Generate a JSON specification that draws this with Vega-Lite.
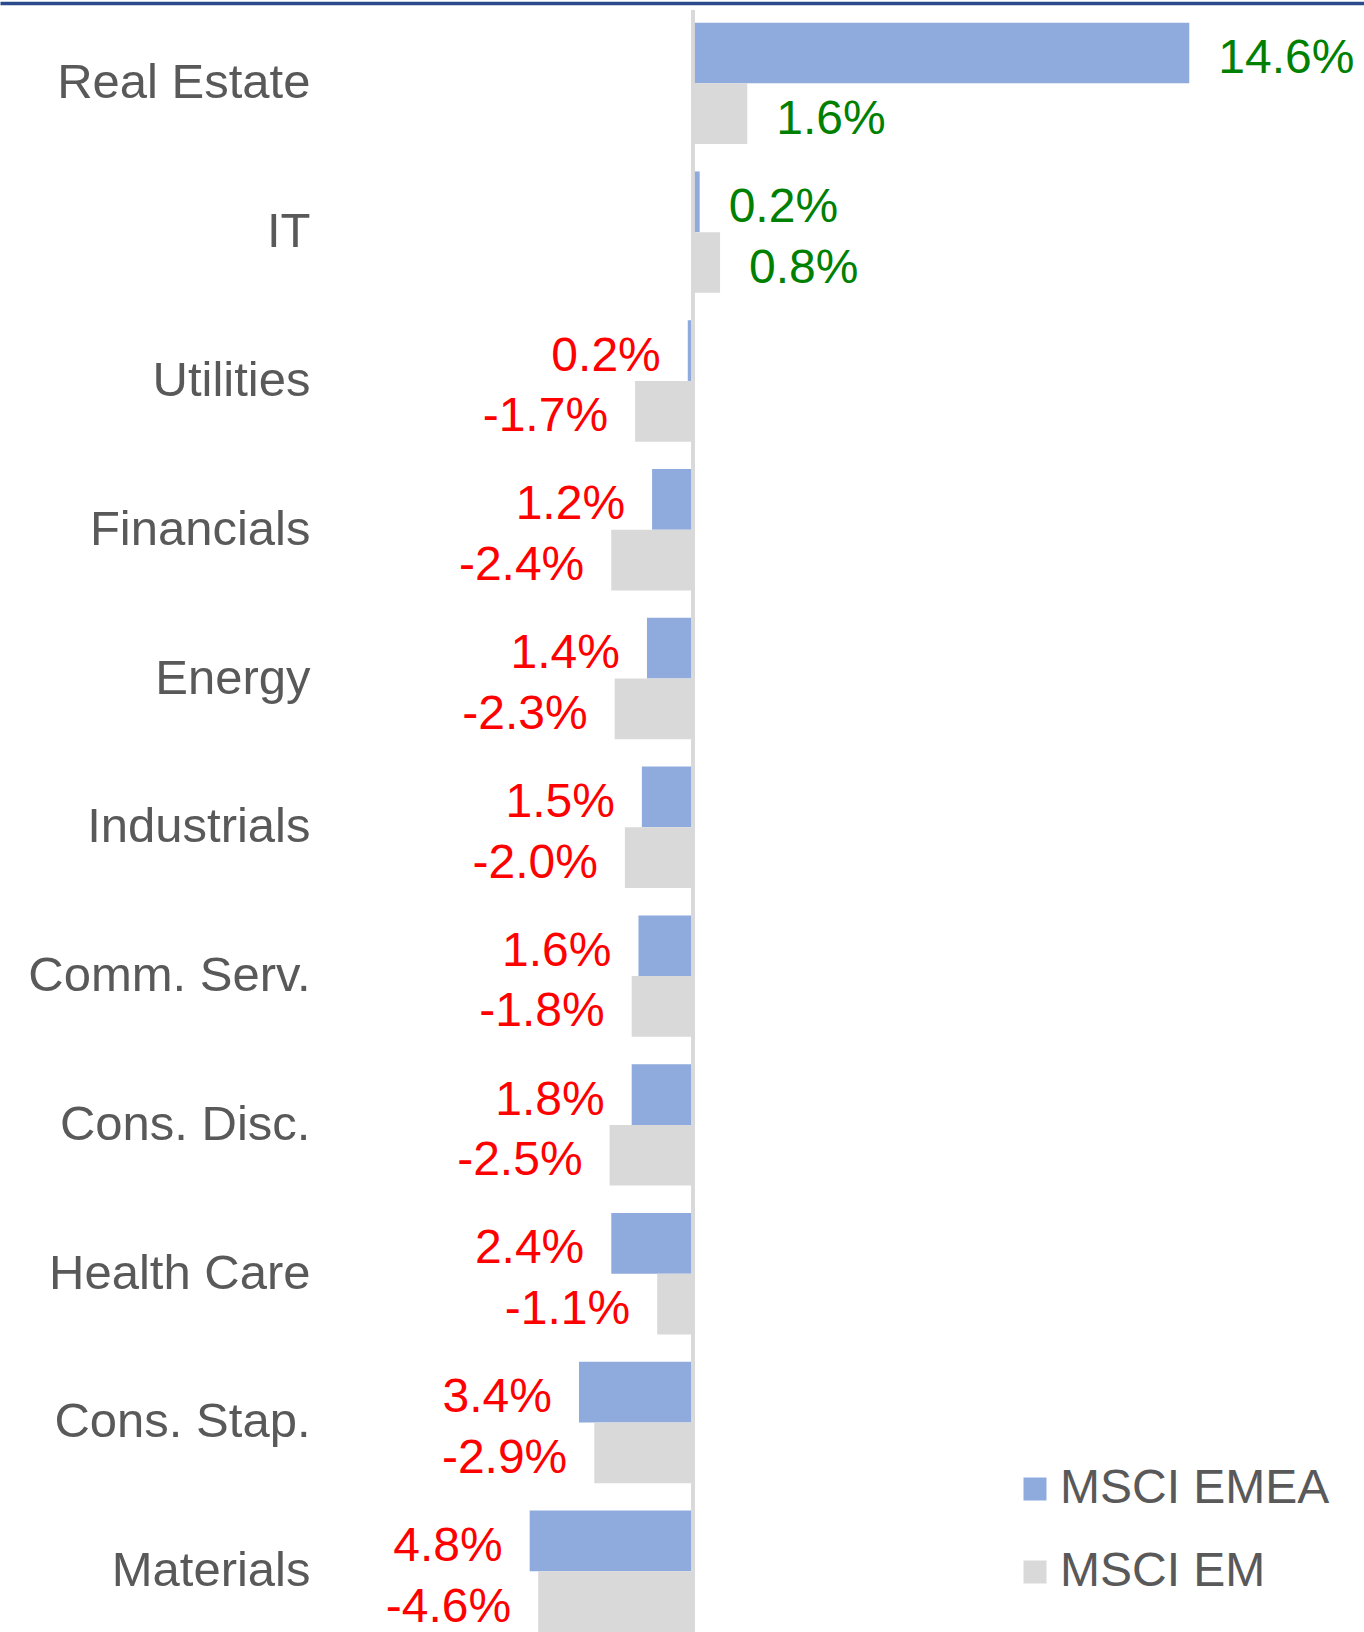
{
  "$schema": "https://vega.github.io/schema/vega-lite/v6.json",
  "width": 1364,
  "height": 1622,
  "autosize": {"type": "none"},
  "padding": {"left": 0, "top": 10, "right": 0, "bottom": 0},
  "background": "white",
  "config": {"view": {"stroke": null}, "font": "Liberation Sans"},
  "data": {
    "values": [
      {"sector": "Real Estate", "series": "MSCI EMEA", "value": 14.6, "label": "14.6%"},
      {"sector": "Real Estate", "series": "MSCI EM", "value": 1.6, "label": "1.6%"},
      {"sector": "IT", "series": "MSCI EMEA", "value": 0.2, "label": "0.2%"},
      {"sector": "IT", "series": "MSCI EM", "value": 0.8, "label": "0.8%"},
      {"sector": "Utilities", "series": "MSCI EMEA", "value": -0.15, "label": "0.2%"},
      {"sector": "Utilities", "series": "MSCI EM", "value": -1.7, "label": "-1.7%"},
      {"sector": "Financials", "series": "MSCI EMEA", "value": -1.2, "label": "1.2%"},
      {"sector": "Financials", "series": "MSCI EM", "value": -2.4, "label": "-2.4%"},
      {"sector": "Energy", "series": "MSCI EMEA", "value": -1.35, "label": "1.4%"},
      {"sector": "Energy", "series": "MSCI EM", "value": -2.3, "label": "-2.3%"},
      {"sector": "Industrials", "series": "MSCI EMEA", "value": -1.5, "label": "1.5%"},
      {"sector": "Industrials", "series": "MSCI EM", "value": -2.0, "label": "-2.0%"},
      {"sector": "Comm. Serv.", "series": "MSCI EMEA", "value": -1.6, "label": "1.6%"},
      {"sector": "Comm. Serv.", "series": "MSCI EM", "value": -1.8, "label": "-1.8%"},
      {"sector": "Cons. Disc.", "series": "MSCI EMEA", "value": -1.8, "label": "1.8%"},
      {"sector": "Cons. Disc.", "series": "MSCI EM", "value": -2.45, "label": "-2.5%"},
      {"sector": "Health Care", "series": "MSCI EMEA", "value": -2.4, "label": "2.4%"},
      {"sector": "Health Care", "series": "MSCI EM", "value": -1.05, "label": "-1.1%"},
      {"sector": "Cons. Stap.", "series": "MSCI EMEA", "value": -3.35, "label": "3.4%"},
      {"sector": "Cons. Stap.", "series": "MSCI EM", "value": -2.9, "label": "-2.9%"},
      {"sector": "Materials", "series": "MSCI EMEA", "value": -4.8, "label": "4.8%"},
      {"sector": "Materials", "series": "MSCI EM", "value": -4.55, "label": "-4.6%"}
    ]
  },
  "layer": [
    {
      "mark": {"type": "bar"},
      "encoding": {
        "y": {
          "field": "sector", "type": "nominal",
          "sort": ["Real Estate", "IT", "Utilities", "Financials", "Energy", "Industrials", "Comm. Serv.", "Cons. Disc.", "Health Care", "Cons. Stap.", "Materials"],
          "scale": {"paddingInner": 0.184, "paddingOuter": 0.0425, "align": 1},
          "axis": {"orient": "left", "domain": false, "ticks": false, "grid": false, "title": null, "labelFontSize": 49, "labelColor": "#595959", "labelPadding": -310, "labelAlign": "right", "labelLimit": 600, "labelOffset": 0, "labelFont": "Liberation Sans"}
        },
        "yOffset": {"field": "series", "type": "nominal", "sort": ["MSCI EMEA", "MSCI EM"], "scale": {"paddingInner": 0, "paddingOuter": 0}},
        "x": {
          "field": "value", "type": "quantitative",
          "scale": {"domain": [-20.38, 19.74], "nice": false, "zero": false},
          "axis": {"orient": "top", "labels": false, "ticks": false, "grid": false, "title": null, "domainColor": "#2a4a8c", "domainWidth": 3.5, "offset": 7}
        },
        "color": {
          "field": "series", "type": "nominal",
          "scale": {"domain": ["MSCI EMEA", "MSCI EM"], "range": ["#8faadc", "#d9d9d9"]},
          "legend": {"orient": "none", "legendX": 1011, "legendY": 1455, "title": null, "symbolType": "square", "symbolSize": 529, "symbolStrokeWidth": 0, "labelFontSize": 48, "labelColor": "#595959", "labelOffset": 1, "rowPadding": 35, "labelFont": "Liberation Sans", "labelLimit": 400}
        }
      }
    },
    {
      "transform": [{"filter": "datum.value >= 0"}],
      "mark": {"type": "text", "align": "left", "baseline": "middle", "dx": 29, "dy": 6, "fontSize": 48, "color": "#008000", "font": "Liberation Sans"},
      "encoding": {
        "y": {"field": "sector", "type": "nominal", "sort": ["Real Estate", "IT", "Utilities", "Financials", "Energy", "Industrials", "Comm. Serv.", "Cons. Disc.", "Health Care", "Cons. Stap.", "Materials"]},
        "yOffset": {"field": "series", "type": "nominal", "sort": ["MSCI EMEA", "MSCI EM"]},
        "x": {"field": "value", "type": "quantitative"},
        "text": {"field": "label", "type": "nominal"}
      }
    },
    {
      "transform": [{"filter": "datum.value < 0"}],
      "mark": {"type": "text", "align": "right", "baseline": "middle", "dx": -27, "dy": 6, "fontSize": 48, "color": "#ff0000", "font": "Liberation Sans"},
      "encoding": {
        "y": {"field": "sector", "type": "nominal", "sort": ["Real Estate", "IT", "Utilities", "Financials", "Energy", "Industrials", "Comm. Serv.", "Cons. Disc.", "Health Care", "Cons. Stap.", "Materials"]},
        "yOffset": {"field": "series", "type": "nominal", "sort": ["MSCI EMEA", "MSCI EM"]},
        "x": {"field": "value", "type": "quantitative"},
        "text": {"field": "label", "type": "nominal"}
      }
    },
    {
      "mark": {"type": "rule", "color": "#d9d9d9", "strokeWidth": 2.5},
      "encoding": {"x": {"datum": 0, "type": "quantitative"}}
    }
  ]
}
